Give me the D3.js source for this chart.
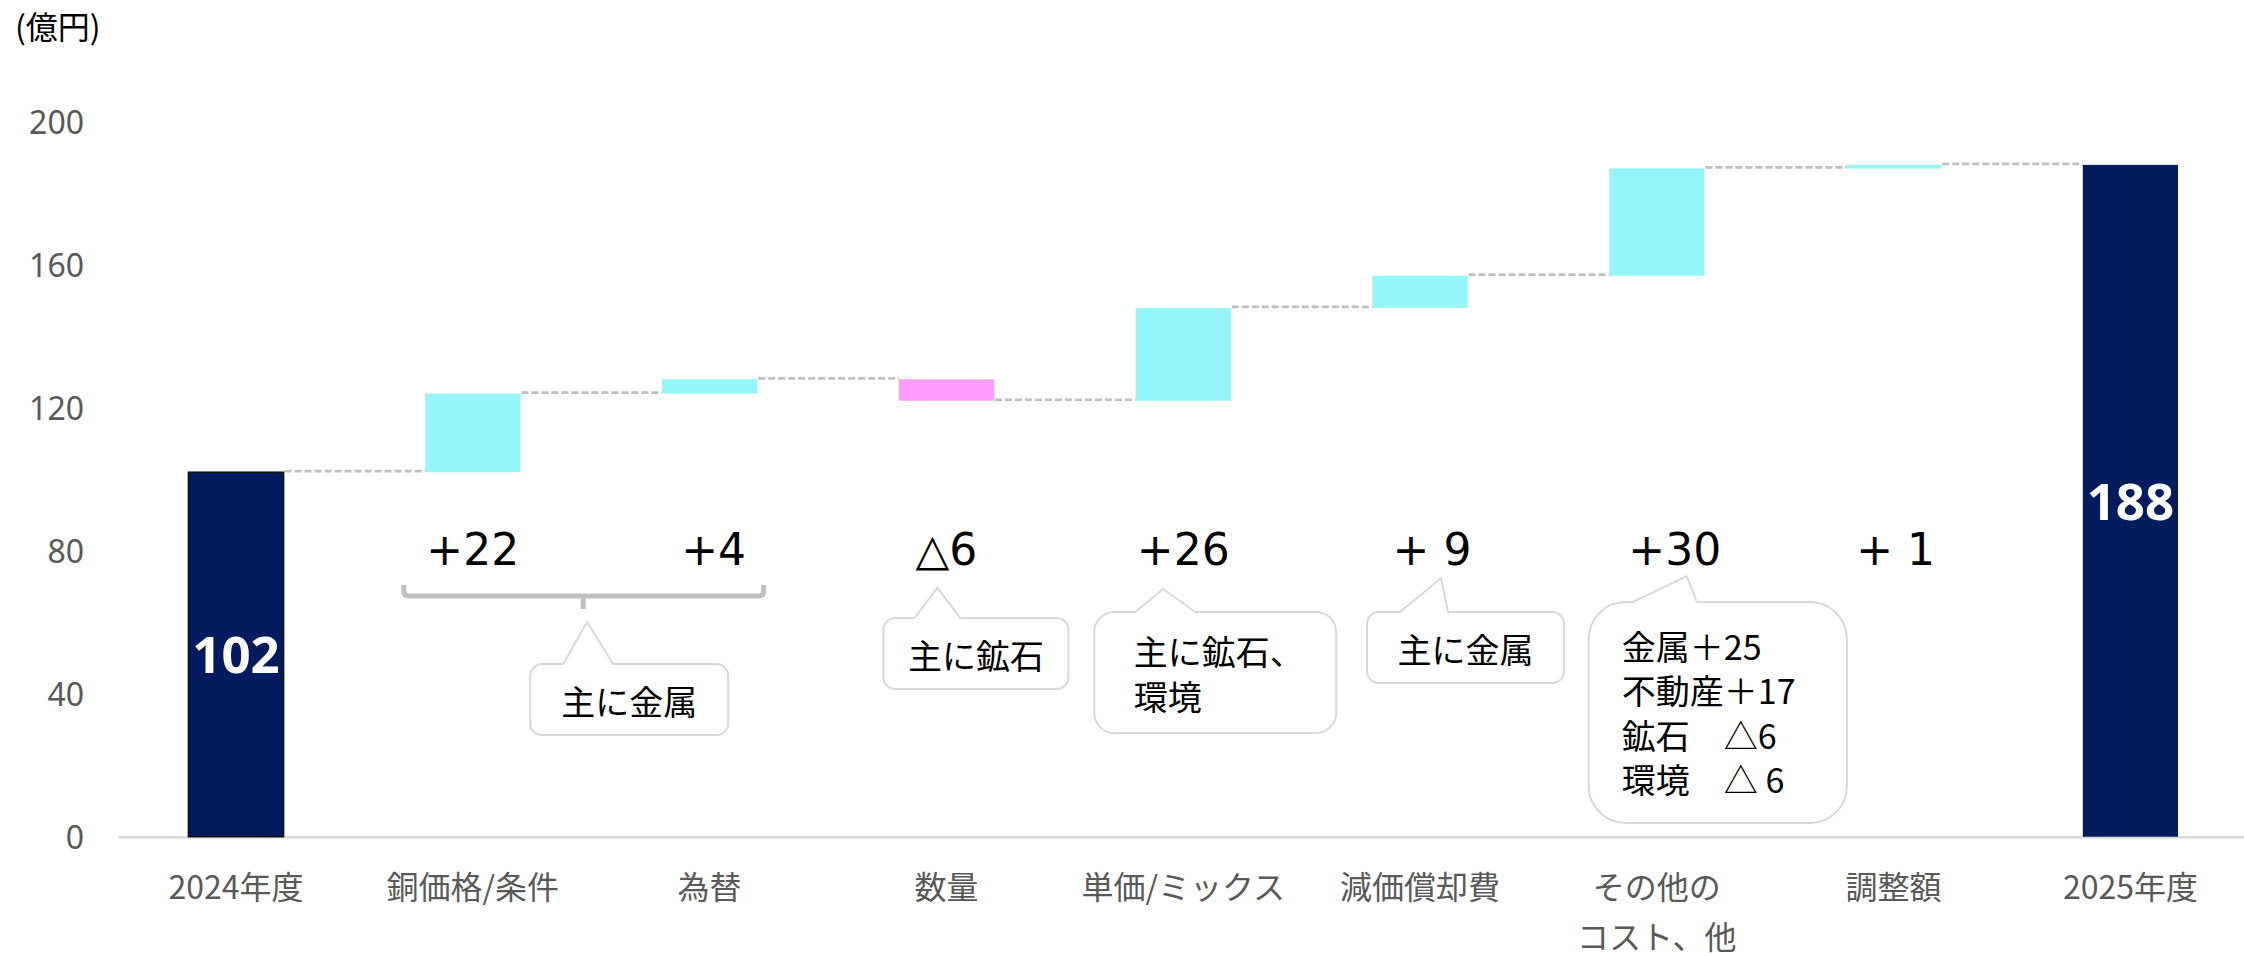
<!DOCTYPE html>
<html>
<head>
<meta charset="utf-8">
<script src="https://cdn.jsdelivr.net/npm/d3@7/dist/d3.min.js"></script>
<style>
  body { margin: 0; background: #fff; }
  svg { display: block; }
</style>
</head>
<body>
<div id="chart"></div>
<script>
// categories and values (億円)
var categories = ["2024年度", "銅価格/条件", "為替", "数量", "単価/ミックス", "減価償却費", "その他の\nコスト、他", "調整額", "2025年度"];
var changes = [102, 22, 4, -6, 26, 9, 30, 1, 188];
var kinds = ["total", "up", "up", "down", "up", "up", "up", "up", "total"];
var valueLabels = ["102", "+22", "+4", "△6", "+26", "+ 9", "+30", "+ 1", "188"];
var yTicks = [0, 40, 80, 120, 160, 200];

// callout texts
var noteTexts = [["主に金属"], ["主に鉱石"], ["主に鉱石、", "環境"], ["主に金属"], ["金属＋25", "不動産＋17", "鉱石　△6", "環境　△ 6"]];

var width = 2244, height = 956;
var colors = { total: "#011B5E", up: "#94F6FA", down: "#FF9BFF" };

var svg = d3.select("#chart").append("svg")
    .attr("width", width)
    .attr("height", height);

var x = d3.scaleBand().domain(d3.range(categories.length)).range([117.6, 2248.8]).padding(0);
var y = d3.scaleLinear().domain([0, 200]).range([836.7, 122]);
var barW = x.bandwidth() * 0.402;
function cx(i) { return x(Math.floor(i)) + x.bandwidth() * (0.5 + (i - Math.floor(i))); }

// build waterfall steps
var running = 0;
var steps = changes.map(function (v, i) {
    var s;
    if (kinds[i] === "total") {
        s = { i: i, lo: 0, hi: v, end: v };
        running = v;
    } else {
        var a = running, b = running + v;
        s = { i: i, lo: Math.min(a, b), hi: Math.max(a, b), end: b };
        running = b;
    }
    s.kind = kinds[i];
    return s;
});

// unit label
svg.append("text")
    .attr("x", 15).attr("y", 39)
    .style("font-family", "'Noto Sans CJK JP', sans-serif")
    .style("font-size", "32px")
    .attr("fill", "#000")
    .text("(億円)");

// y axis
var yAxis = svg.append("g")
    .attr("transform", "translate(84,0)")
    .call(d3.axisLeft(y).tickValues(yTicks).tickSize(0).tickPadding(0));
yAxis.select(".domain").remove();
yAxis.selectAll("text")
    .attr("dy", "0.36em")
    .style("font-family", "'Noto Sans', 'Noto Sans CJK JP', sans-serif")
    .style("font-size", "32px")
    .attr("fill", "#595959");

// x axis
var xAxis = svg.append("g")
    .attr("transform", "translate(0," + y(0) + ")")
    .call(d3.axisBottom(x).tickSize(0).tickSizeOuter(0).tickFormat(function () { return ""; }));
xAxis.select(".domain").attr("stroke", "#D9D9D9").attr("stroke-width", 2.5);
xAxis.selectAll(".tick text").each(function (d) {
    var t = d3.select(this).attr("y", 62).attr("dy", null)
        .style("font-family", "'Noto Sans CJK JP', sans-serif")
        .style("font-size", "32px")
        .attr("fill", "#595959");
    categories[d].split("\n").forEach(function (line, k) {
        t.append("tspan").attr("x", 0).attr("dy", k === 0 ? 0 : 50).text(line);
    });
});

// connectors
svg.append("g").selectAll("line")
    .data(steps.slice(0, -1))
    .join("line")
    .attr("x1", function (d) { return cx(d.i) + barW / 2 + 1; })
    .attr("x2", function (d) { return cx(d.i + 1) - barW / 2; })
    .attr("y1", function (d) { return y(d.end) - 1; })
    .attr("y2", function (d) { return y(d.end) - 1; })
    .attr("stroke", "#C0C0C0")
    .attr("stroke-width", 2.7)
    .attr("stroke-dasharray", "7,3");

// bars
svg.append("g").selectAll("rect")
    .data(steps)
    .join("rect")
    .attr("x", function (d) { return cx(d.i) - barW / 2; })
    .attr("width", barW)
    .attr("y", function (d) { return y(d.hi); })
    .attr("height", function (d) { return y(d.lo) - y(d.hi); })
    .attr("fill", function (d) { return colors[d.kind]; })
    .attr("stroke", function (d) { return d.i === 0 ? "#111" : "none"; })
    .attr("stroke-width", 1.5);

// values inside total bars
svg.append("g").selectAll("text")
    .data(steps.filter(function (d) { return d.kind === "total"; }))
    .join("text")
    .attr("x", function (d) { return cx(d.i); })
    .attr("y", function (d) { return y(d.hi / 2) + 19; })
    .attr("text-anchor", "middle")
    .style("font-family", "'Noto Sans', sans-serif")
    .style("font-weight", 700)
    .style("font-size", "51px")
    .attr("fill", "#fff")
    .text(function (d) { return valueLabels[d.i]; });

// change labels in one row
var labelDx = [0, 0, 4, 0, 0, 12, 18, 2, 0];
svg.append("g").selectAll("text")
    .data(steps.filter(function (d) { return d.kind !== "total"; }))
    .join("text")
    .attr("x", function (d) { return cx(d.i) + labelDx[d.i]; })
    .attr("y", 565)
    .attr("text-anchor", "middle")
    .style("font-family", "'DejaVu Sans', 'Noto Sans CJK JP', sans-serif")
    .style("font-size", "44px")
    .attr("fill", "#000")
    .text(function (d) { return valueLabels[d.i]; });

// bracket joining 銅価格/条件 and 為替
var bL = cx(1) - 69, bR = cx(2) + 54, bM = cx(1.5) - 8;
svg.append("path")
    .attr("d", "M" + bL + ",585V591Q" + bL + ",596 " + (bL + 5) + ",596H" + (bR - 5) + "Q" + bR + ",596 " + bR + ",591V585")
    .attr("fill", "none").attr("stroke", "#BFBFBF").attr("stroke-width", 5);
svg.append("line")
    .attr("x1", bM).attr("x2", bM).attr("y1", 596).attr("y2", 609)
    .attr("stroke", "#BFBFBF").attr("stroke-width", 5);

// callout layout: anchor category, box offsets, pointer, text
var notes = [
    { at: 1.5, dx: -61, w: 198, top: 664, h: 71, tip: [-4, 622], base: [-28, 22], align: "middle", tx: 38, ty: 715, lh: 45 },
    { at: 3, dx: -63, w: 185, top: 618, h: 71, tip: [-9, 588], base: [-32, 14], align: "middle", tx: 29.5, ty: 669, lh: 45 },
    { at: 4, dx: -89, w: 242, top: 612, h: 121, tip: [-20, 589], base: [-48, 12], align: "start", tx: -49.5, ty: 665, lh: 45 },
    { at: 5, dx: -53, w: 197, top: 612, h: 71, tip: [21, 578], base: [-20, 28], align: "middle", tx: 45.5, ty: 663, lh: 45 },
    { at: 6, dx: -68, w: 258, top: 602, h: 221, tip: [30, 576], base: [-24, 40], align: "start", tx: -35, ty: 660, lh: 44.4 }
];

function calloutPath(l, t, w, h, bl, br, tx, ty) {
    var r = Math.min(w, h) / 6;
    var R = l + w, B = t + h;
    return "M" + (l + r) + "," + t +
        "H" + bl + "L" + tx + "," + ty + "L" + br + "," + t +
        "H" + (R - r) + "A" + r + "," + r + " 0 0 1 " + R + "," + (t + r) +
        "V" + (B - r) + "A" + r + "," + r + " 0 0 1 " + (R - r) + "," + B +
        "H" + (l + r) + "A" + r + "," + r + " 0 0 1 " + l + "," + (B - r) +
        "V" + (t + r) + "A" + r + "," + r + " 0 0 1 " + (l + r) + "," + t + "Z";
}

var noteG = svg.append("g").selectAll("g")
    .data(notes)
    .join("g");
noteG.append("path")
    .attr("d", function (n) {
        var c = cx(n.at);
        return calloutPath(c + n.dx, n.top, n.w, n.h, c + n.base[0], c + n.base[1], c + n.tip[0], n.tip[1]);
    })
    .attr("fill", "#fff")
    .attr("stroke", "#D9D9D9")
    .attr("stroke-width", 2);
noteG.append("text")
    .attr("text-anchor", function (n) { return n.align; })
    .style("font-family", "'Noto Sans CJK JP', sans-serif")
    .style("font-size", "34px")
    .attr("fill", "#000")
    .each(function (n, k) {
        var t = d3.select(this);
        noteTexts[k].forEach(function (line, j) {
            t.append("tspan")
                .attr("x", cx(n.at) + n.tx)
                .attr("y", n.ty + j * n.lh)
                .text(line);
        });
    });
</script>
</body>
</html>
